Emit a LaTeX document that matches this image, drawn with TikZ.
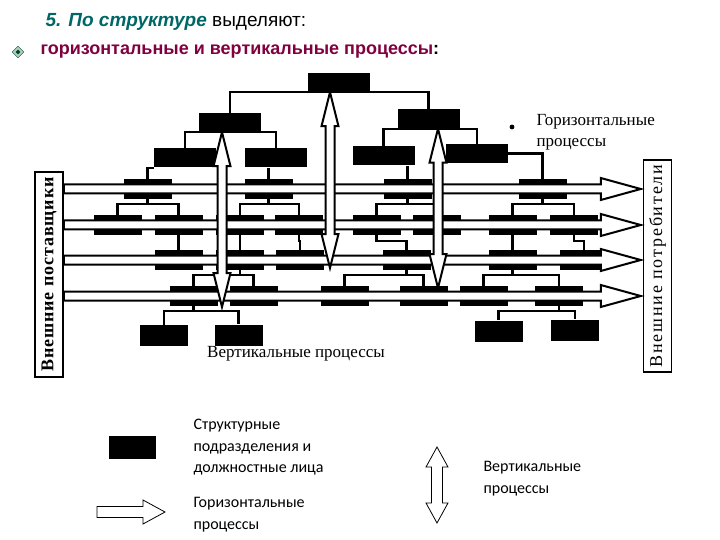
\documentclass[tikz,border=0pt]{standalone}
\usepackage{fontspec}
\setmainfont{Liberation Serif}
\newfontfamily\arialfont{Liberation Sans}
\newfontfamily\calibfont{Carlito}
\usetikzlibrary{calc,shapes.geometric}
\definecolor{tealtitle}{RGB}{0,102,102}
\definecolor{plumtext}{RGB}{128,0,64}

\begin{document}
\begin{tikzpicture}[x=1pt,y=-1pt,
  unit/.style={fill=black,inner sep=0pt,minimum width=48pt,minimum height=20pt},
  bigunit/.style={unit,minimum width=62pt,minimum height=19pt},
  link/.style={line width=2.2pt},
  hproc/.style={draw,line width=2pt,fill=white},
  vproc/.style={draw,line width=2pt,fill=white},
  side/.style={draw,line width=1.5pt,minimum height=28pt,inner sep=0pt,rotate=90}]
\useasboundingbox (0,0) rectangle (720,540);

% heading
\node[anchor=west,font=\arialfont\fontsize{19}{19}\selectfont] (title) at (42,22)
  {\textcolor{tealtitle}{\bfseries\itshape 5. По структуре} выделяют:};
\node[diamond,draw=teal!60!black,fill=green!25!gray!50,minimum size=12pt,inner sep=0pt] (bul) at (18,52) {};
\node[diamond,fill=teal!50!black,minimum size=5pt,inner sep=0pt] (bulin) at (bul) {};
\node[anchor=west,font=\arialfont\bfseries\fontsize{18}{18}\selectfont] (sub) at (37,52)
  {\textcolor{plumtext}{горизонтальные и вертикальные процессы}:};

% upper levels
\node[bigunit] (top) at (338.5,82.5) {};
\node[bigunit] (L2a) at (230,122.5) {};
\node[bigunit] (L2b) at (428.5,119) {};
\node[bigunit] (L3a) at (185,158) {};
\node[bigunit] (L3b) at (276,158) {};
\node[bigunit] (L3c) at (383.5,156) {};
\node[bigunit] (L3d) at (477,153.5) {};

% lower levels, one row per horizontal process
\foreach \n/\x in {A1/147.5,A2/268.5,A3/407.5,A4/542.5}
  \node[unit] (\n) at (\x,189) {};
\foreach \n/\x in {B1/117.5,B2/178.5,B3/240,B4/299,B5/376.5,B6/436.5,B7/512.5,B8/574}
  \node[unit] (\n) at (\x,225) {};
\foreach \n/\x in {C1/178.5,C2/240,C3/300,C4/406.5,C5/512.5,C6/584}
  \node[unit] (\n) at (\x,260) {};
\foreach \n/\x in {D1/193.5,D2/253.5,D3/344.5,D4/423.5,D5/483.5,D6/559}
  \node[unit] (\n) at (\x,296) {};
\node[unit,minimum height=21pt] (E1) at (164,335.5) {};
\node[unit,minimum height=21pt] (E2) at (238.5,335) {};
\node[unit,minimum height=21pt] (E3) at (498.5,331) {};
\node[unit,minimum height=21pt] (E4) at (575,330) {};

% links
\draw[link] (L2a) |- (top.south) -| (L2b);
\draw[link] (L3a) |- (L2a.south) -| (L3b);
\draw[link] (L3c) |- (L2b.south) -| (L3d);
\draw[link] (L3a.south west) -| (A1);
\draw[link] (A2) -- (A2 |- L3b.south);
\draw[link] (A3) -- (A3 |- L3c.south);
\draw[link] (L3d) -| (A4);
\foreach \p/\l/\r in {A1/B1/B2,A2/B3/B4,A3/B5/B6,A4/B7/B8,C2/D1/D2,C4/D3/D4,C5/D5/D6,D1/E1/E2,D6/E3/E4}{
  \draw[link] (\p.south) -- ++(0,5) coordinate (fork);
  \draw[link] (\l) |- (fork) -| (\r);
}
\foreach \p/\c in {B2/C1,B3/C2,B4/C3,B5/C4,B7/C5,B8/C6}
  \draw[link] (\p.south) -- ++(0,6) -| (\c);

% side boxes
\node[side,minimum width=205pt,font=\bfseries\fontsize{18}{18}\selectfont] (sup) at (49,274.5)
  {\addfontfeature{LetterSpace=5}Внешние поставщики};
\node[side,minimum width=212pt,font=\fontsize{18}{18}\selectfont] (cons) at (657.5,266)
  {\addfontfeature{LetterSpace=10}Внешние потребители};

% horizontal processes
\foreach \y in {189,225,260,296}{
  \coordinate (s) at (sup.south |- 0,\y);
  \coordinate (e) at ([xshift=-2pt]cons.north |- 0,\y);
  \draw[hproc] ($(s)+(0,-4.5)$) -- ($(e)+(-40,-4.5)$) -- ++(0,-6.5) -- (e)
    -- ($(e)+(-40,11)$) -- ++(0,-6.5) -- ($(s)+(0,4.5)$) -- cycle;
}

% vertical processes
\foreach \n/\dx/\yb in {L2a/-8/307,top/-8.5/268,L2b/9.5/288}{
  \coordinate (t) at ([xshift=\dx pt]\n.south);
  \coordinate (b) at (t |- 0,\yb);
  \draw[vproc] (t) -- ++(8.5,34) -- ++(-4,0) -- ($(b)+(4.5,-34)$) -- ++(4,0) -- (b)
    -- ++(-8.5,-34) -- ++(4,0) -- ($(t)+(-4.5,34)$) -- ++(-4,0) -- cycle;
}

% labels
\node[circle,fill,inner sep=1.7pt] (dot) at (512,127) {};
\node[anchor=west,align=left,font=\fontsize{17}{21}\selectfont] (hlab) at (533,132)
  {Горизонтальные\\процессы};
\node[font=\fontsize{17}{17}\selectfont] (vlab) at (296,354) {Вертикальные процессы};

% legend
\node[unit,minimum width=47pt,minimum height=23pt] (legunit) at (132,447) {};
\node[anchor=north west,align=left,font=\calibfont\fontsize{16}{21.5}\selectfont] (legunittxt) at (190,416)
  {Структурные\\подразделения и\\должностные лица};
\coordinate (lh0) at (97,512);
\coordinate (lh1) at (165,512);
\draw[line width=0.8pt,fill=white] ($(lh0)+(0,-5.5)$) -- ($(lh1)+(-22,-5.5)$) -- ++(0,-6.5) -- (lh1)
  -- ($(lh1)+(-22,12)$) -- ++(0,-6.5) -- ($(lh0)+(0,5.5)$) -- cycle;
\node[anchor=north west,align=left,font=\calibfont\fontsize{16}{21.5}\selectfont] (leghtxt) at (190,494)
  {Горизонтальные\\процессы};
\coordinate (lv0) at (437,447);
\coordinate (lv1) at (437,523);
\draw[line width=0.8pt,fill=white] (lv0) -- ++(11,20) -- ++(-5.5,0) -- ($(lv1)+(5.5,-20)$) -- ++(5.5,0) -- (lv1)
  -- ++(-11,-20) -- ++(5.5,0) -- ($(lv0)+(-5.5,20)$) -- ++(-5.5,0) -- cycle;
\node[anchor=north west,align=left,font=\calibfont\fontsize{16}{21.5}\selectfont] (legvtxt) at (480,458)
  {Вертикальные\\процессы};
\end{tikzpicture}
\end{document}
